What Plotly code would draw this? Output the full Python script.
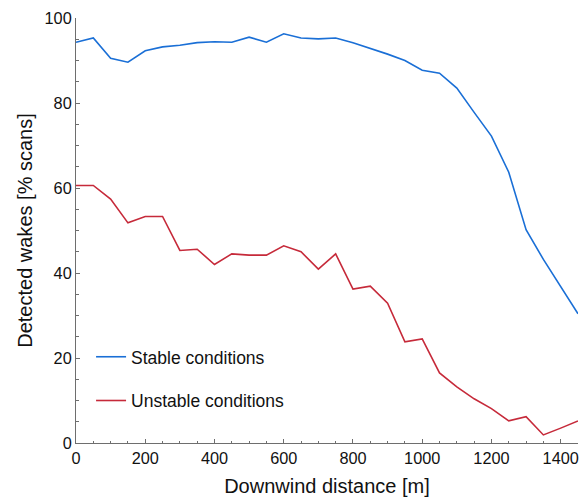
import plotly.graph_objects as go

# Downwind distance of each range gate [m]
distance = [0, 50, 100, 150, 200, 250, 300, 350, 400, 450, 500, 550, 600, 650, 700,
            750, 800, 850, 900, 950, 1000, 1050, 1100, 1150, 1200, 1250, 1300, 1350,
            1400, 1450]

# Share of scans with a detected wake [%]
stable = [94.3, 95.3, 90.5, 89.6, 92.3, 93.2, 93.6, 94.2, 94.4, 94.3, 95.5, 94.3,
          96.3, 95.3, 95.1, 95.3, 94.2, 92.9, 91.5, 90.0, 87.7, 87.0, 83.5, 77.8,
          72.2, 63.7, 50.2, 43.2, 36.8, 30.4]
unstable = [60.6, 60.6, 57.4, 51.8, 53.3, 53.3, 45.3, 45.6, 42.0, 44.5, 44.2, 44.2,
            46.4, 45.0, 40.9, 44.5, 36.2, 36.9, 32.9, 23.8, 24.5, 16.5, 13.2, 10.4,
            8.1, 5.2, 6.2, 1.9, 3.5, 5.2]

x_ticks = [0, 200, 400, 600, 800, 1000, 1200, 1400]
y_ticks = [0, 20, 40, 60, 80, 100]

BLUE = "#1a6fd6"
RED = "#c62a3a"
AXIS = "#6e6e6e"
FONT = "Liberation Sans, Arial, sans-serif"

fig = go.Figure()
fig.add_trace(go.Scatter(x=distance, y=stable, mode="lines", name="Stable conditions",
                         legendgroup="a", line=dict(color=BLUE, width=1.6)))
fig.add_trace(go.Scatter(x=distance, y=unstable, mode="lines", name="Unstable conditions",
                         legendgroup="b", line=dict(color=RED, width=1.6)))

axis_common = dict(
    showline=True, linecolor=AXIS, linewidth=1, mirror=False,
    showgrid=False, zeroline=False, automargin=False,
    ticks="inside", ticklen=4, tickwidth=1, tickcolor=AXIS,
    tickfont=dict(family=FONT, size=16.3, color="#111"),
)

fig.update_xaxes(
    range=[0, 1450], tickvals=x_ticks,
    minor=dict(dtick=50, tick0=0, ticks="inside", ticklen=2.5, tickcolor=AXIS),
    title=dict(text="Downwind distance [m]", font=dict(family=FONT, size=20, color="#111"),
               standoff=13),
    **axis_common,
)
fig.update_yaxes(
    range=[0, 100], tickvals=y_ticks,
    minor=dict(dtick=5, tick0=0, ticks="inside", ticklen=2.5, tickcolor=AXIS),
    title=dict(text="Detected wakes [% scans]", font=dict(family=FONT, size=20, color="#111"),
               standoff=6),
    **axis_common,
)

fig.update_layout(
    width=588, height=499,
    margin=dict(l=76, r=10, t=18, b=56),
    plot_bgcolor="white", paper_bgcolor="white",
    font=dict(family=FONT, color="#111"),
    showlegend=True,
    legend=dict(
        x=0.03, y=0.245, xanchor="left", yanchor="top",
        bgcolor="rgba(0,0,0,0)", borderwidth=0,
        font=dict(family=FONT, size=17.5, color="#111"),
        itemwidth=30, tracegroupgap=18, traceorder="grouped",
    ),
)

fig.write_html("out.html")
